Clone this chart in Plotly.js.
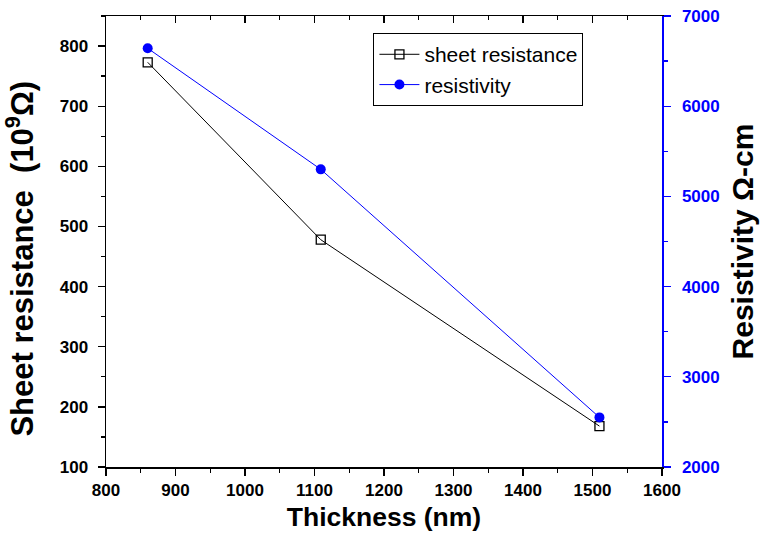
<!DOCTYPE html>
<html>
<head>
<meta charset="utf-8">
<script src="https://cdn.plot.ly/plotly-3.0.1.min.js"></script>
<style>html,body{margin:0;padding:0;background:#fff;}#chart{width:761px;height:551px;}</style>
</head>
<body>
<div id="chart"></div>
<script>
const thickness = [860, 1109, 1510];
const sheetResistance = [773, 478, 168];
const resistivity = [6642, 5300, 2550];
const xTicks = [800, 900, 1000, 1100, 1200, 1300, 1400, 1500, 1600];
const yTicks = [100, 200, 300, 400, 500, 600, 700, 800];
const y2Ticks = [2000, 3000, 4000, 5000, 6000, 7000];

const FONT = 'Liberation Sans';
const bold = v => '<b>' + v + '</b>';
const tickFont = {family: FONT, size: 17, color: '#000', weight: 700};

const traces = [
  {
    x: thickness, y: sheetResistance, name: 'sheet resistance',
    type: 'scatter', mode: 'lines+markers',
    line: {color: '#000', width: 1},
    marker: {symbol: 'square-open', size: 9, color: '#000', line: {width: 1.3, color: '#000'}},
    xaxis: 'x', yaxis: 'y'
  },
  {
    x: thickness, y: resistivity, name: 'resistivity',
    type: 'scatter', mode: 'lines+markers',
    line: {color: '#0000ff', width: 1},
    marker: {symbol: 'circle', size: 10, color: '#0000ff'},
    xaxis: 'x', yaxis: 'y2'
  },
  {
    x: [thickness[0]], y: [sheetResistance[0]], type: 'scatter', mode: 'none',
    hoverinfo: 'skip', showlegend: false, xaxis: 'x2', yaxis: 'y'
  }
];

const layout = {
  width: 761, height: 551,
  margin: {l: 106, r: 99, t: 16, b: 84},
  paper_bgcolor: '#fff', plot_bgcolor: '#fff',
  showlegend: true,
  legend: {
    x: 0.481, y: 0.962, xanchor: 'left', yanchor: 'top',
    bordercolor: '#000', borderwidth: 1, bgcolor: '#fff',
    font: {family: FONT, size: 21, color: '#000'},
    tracegroupgap: 0, itemwidth: 40
  },
  xaxis: {
    range: [800, 1600], tickvals: xTicks, ticktext: xTicks.map(bold),
    ticks: 'outside', ticklen: 7, tickwidth: 1.3, tickcolor: '#000',
    minor: {dtick: 50, ticks: 'outside', ticklen: 4, tickwidth: 1.3, tickcolor: '#000'},
    showline: true, linecolor: '#000', linewidth: 1.5, showgrid: false, zeroline: false,
    tickfont: tickFont,
    title: {text: bold('Thickness (nm)'), font: {family: FONT, size: 26.5, color: '#000'}, standoff: 8}
  },
  xaxis2: {
    overlaying: 'x', side: 'top', matches: 'x', range: [800, 1600], tickvals: xTicks,
    ticks: 'inside', ticklen: 7, tickwidth: 1.3, tickcolor: '#000',
    minor: {dtick: 50, ticks: 'inside', ticklen: 4, tickwidth: 1.3, tickcolor: '#000'},
    showticklabels: false, showline: true, linecolor: '#000', linewidth: 1.5,
    showgrid: false, zeroline: false
  },
  yaxis: {
    range: [100, 850], tickvals: yTicks, ticktext: yTicks.map(bold),
    ticks: 'outside', ticklen: 7, tickwidth: 1.3, tickcolor: '#000',
    minor: {dtick: 50, ticks: 'outside', ticklen: 4, tickwidth: 1.3, tickcolor: '#000'},
    showline: true, linecolor: '#000', linewidth: 1.5, showgrid: false, zeroline: false,
    tickfont: tickFont, ticklabelstandoff: 6,
    title: {text: bold('Sheet resistance  (10<sup>9</sup>Ω)\u00a0\u00a0\u00a0\u00a0'), font: {family: FONT, size: 31, color: '#000'}, standoff: 18}
  },
  yaxis2: {
    overlaying: 'y', side: 'right', range: [2000, 7000],
    tickvals: y2Ticks, ticktext: y2Ticks.map(bold),
    ticks: 'outside', ticklen: 7, tickwidth: 1.3, tickcolor: '#0000ff',
    minor: {dtick: 500, ticks: 'outside', ticklen: 4, tickwidth: 1.3, tickcolor: '#0000ff'},
    showline: true, linecolor: '#0000ff', linewidth: 1.5, showgrid: false, zeroline: false,
    tickfont: {family: FONT, size: 17, color: '#0000ff', weight: 700}, ticklabelstandoff: 8,
    title: {text: bold('Resistivity Ω-cm'), font: {family: FONT, size: 30, color: '#000'}, standoff: 13}
  }
};

Plotly.newPlot('chart', traces, layout, {displayModeBar: false, staticPlot: true});
</script>
</body>
</html>
